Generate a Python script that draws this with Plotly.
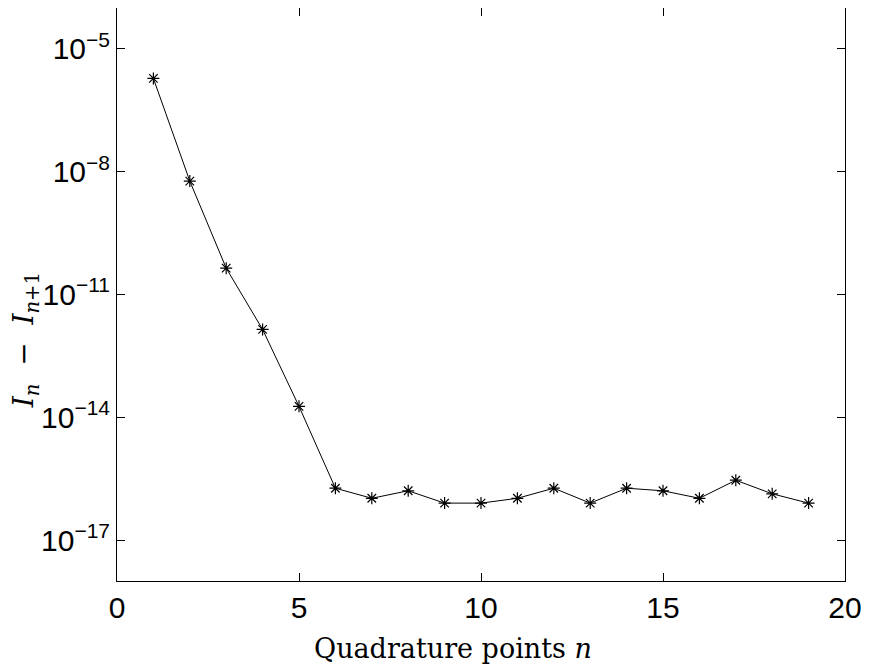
import plotly.graph_objects as go

n_points = list(range(1, 20))
differences = [1.9e-6, 5.9e-9, 4.4e-11, 1.4e-12, 1.85e-14,
               1.85e-16, 1.05e-16, 1.6e-16, 8.0e-17, 8.0e-17,
               1.05e-16, 1.85e-16, 8.0e-17, 1.85e-16, 1.6e-16,
               1.05e-16, 2.9e-16, 1.35e-16, 8.0e-17]

x_tickvals = [0, 5, 10, 15, 20]
y_tickvals = [1e-17, 1e-14, 1e-11, 1e-8, 1e-5]
y_ticktext = ["10<sup>−17</sup>", "10<sup>−14</sup>", "10<sup>−11</sup>",
              "10<sup>−8</sup>", "10<sup>−5</sup>"]

fig = go.Figure()
fig.add_trace(go.Scatter(
    x=n_points, y=differences, mode="lines+markers",
    line=dict(color="black", width=1),
    marker=dict(symbol="asterisk-open", size=10, color="black",
                line=dict(color="black", width=1.2)),
    showlegend=False,
))

tickfont = dict(family="Liberation Sans, Arial, sans-serif", size=30, color="black")
serif = "DejaVu Serif, Liberation Serif, serif"
fig.update_layout(
    width=863, height=659,
    margin=dict(l=109, r=26, t=0, b=86),
    paper_bgcolor="white", plot_bgcolor="white",
    xaxis=dict(
        range=[0, 20], tickvals=x_tickvals, ticks="inside", ticklen=8,
        tickcolor="black", showline=True, linecolor="black", linewidth=1,
        mirror="ticks", showgrid=False, zeroline=False, tickfont=tickfont,
    ),
    yaxis=dict(
        type="log", range=[-18, -4], tickvals=y_tickvals, ticktext=y_ticktext,
        ticks="inside", ticklen=8, tickcolor="black", showline=True,
        linecolor="black", linewidth=1, mirror="ticks", showgrid=False,
        zeroline=False, tickfont=tickfont,
    ),
    annotations=[
        dict(text="Quadrature points <i>n</i>", xref="paper", yref="paper",
             x=0.4615, y=-0.117, xanchor="center", yanchor="middle",
             showarrow=False, font=dict(family=serif, size=27, color="black")),
        dict(text="<i>I</i><sub><i>n</i></sub>  −  <i>I</i><sub><i>n</i>+1</sub>",
             xref="paper", yref="paper", x=-0.1245, y=0.4206,
             xanchor="center", yanchor="middle", textangle=-90,
             showarrow=False, borderpad=0,
             font=dict(family=serif, size=28, color="black")),
    ],
)

fig.write_html("out.html")
